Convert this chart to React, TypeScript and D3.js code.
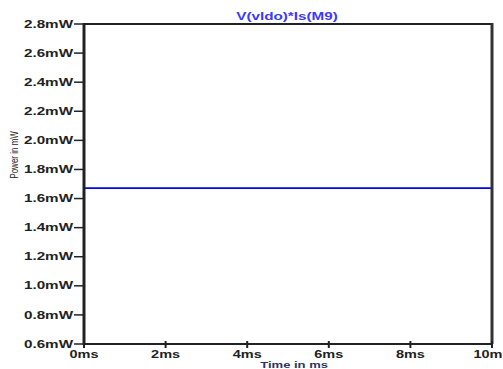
import React from 'react';
import * as d3 from 'd3';

const timeTicks = [0, 2, 4, 6, 8, 10];
const powerTicks = [0.6, 0.8, 1.0, 1.2, 1.4, 1.6, 1.8, 2.0, 2.2, 2.4, 2.6, 2.8];
const seriesTime = [0, 10];
const seriesPower = [1.672, 1.672];

// the original picture is stretched sideways, so text is widened the same way
const stretch = 1.45;

export default function App() {
  const width = 503;
  const height = 369;
  const margin = { top: 24, right: 11, bottom: 25, left: 84 };
  const innerW = width - margin.left - margin.right;
  const innerH = height - margin.top - margin.bottom;

  const x = d3.scaleLinear().domain([0, 10]).range([0, innerW]);
  const y = d3.scaleLinear().domain([0.6, 2.8]).range([innerH, 0]);

  const line = d3
    .line<number>()
    .x((d, i) => x(seriesTime[i]))
    .y(d => y(d));

  const font = 'Arial, "Liberation Sans", sans-serif';

  return (
    <svg
      width={width}
      height={height}
      style={{ position: 'absolute', left: 0, top: 0, background: '#fff' }}
      fontFamily={font}
    >
      <text
        transform={`translate(287,20) scale(${stretch},1)`}
        textAnchor="middle"
        fill="#3a3aff"
        fontSize={10.5}
        fontWeight="bold"
      >
        V(vldo)*Is(M9)
      </text>
      <g transform={`translate(${margin.left},${margin.top})`}>
        <path d={line(seriesPower) || ''} fill="none" stroke="#0000ff" strokeWidth={1.8} />
        {/* frame */}
        <line x1={0} x2={innerW} y1={0} y2={0} stroke="#222" strokeWidth={2} />
        <line x1={innerW} x2={innerW} y1={-1} y2={innerH} stroke="#333" strokeWidth={3} />
        <line x1={0} x2={innerW} y1={innerH} y2={innerH} stroke="#222" strokeWidth={2} />
        <line x1={0} x2={0} y1={-1} y2={innerH + 1} stroke="#222" strokeWidth={3} />
        {powerTicks.map(t => (
          <g key={t} transform={`translate(0,${y(t)})`}>
            <line x1={-10} x2={0} stroke="#222" strokeWidth={1.5} />
            <text
              transform={`translate(-11,0) scale(${stretch},1)`}
              dy="0.35em"
              textAnchor="end"
              fontSize={10.5}
              fontWeight="bold"
              fill="#222"
            >
              {d3.format('.1f')(t)}mW
            </text>
          </g>
        ))}
        {timeTicks.map(t => (
          <g key={t} transform={`translate(${x(t)},${innerH})`}>
            <line y1={-3} y2={4} stroke="#222" strokeWidth={2} />
            <text
              transform={`translate(0,14) scale(${stretch},1)`}
              textAnchor="middle"
              fontSize={10}
              fontWeight="bold"
              fill="#222"
            >
              {t}ms
            </text>
          </g>
        ))}
        <text
          transform={`translate(${x(5.15)},${innerH + 23.5}) scale(${stretch},1)`}
          textAnchor="middle"
          fontSize={9}
          fontWeight="bold"
          fill="#2d3566"
        >
          Time in ms
        </text>
        <text
          transform={`translate(${-66},${y(1.9)}) rotate(-90) scale(1,${stretch})`}
          textAnchor="middle"
          fontSize={8}
          fill="#222"
        >
          Power in mW
        </text>
      </g>
    </svg>
  );
}
